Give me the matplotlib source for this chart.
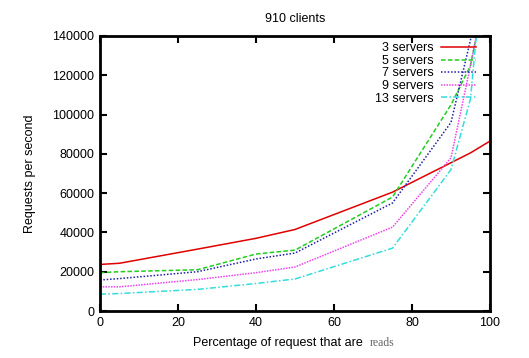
#!/usr/bin/env python3
"""Requests per second vs read percentage, 910 clients (gnuplot-style figure)."""

import matplotlib
matplotlib.use("Agg")
import matplotlib.pyplot as plt

plt.rcParams["font.family"] = ["Liberation Sans", "DejaVu Sans"]

# read percentage (x) and throughput for each server count
pct = [0, 5, 25, 40, 50, 75, 90, 95, 100]
srv3 = [23700, 24300, 31500, 37000, 41500, 60500, 75500, 80500, 86500]
srv5 = [19500, 20000, 21000, 29000, 31000, 58000, 105000, 125000, 175000]
srv7 = [15800, 16500, 20000, 26500, 29500, 55000, 96000, 138000, 200000]
srv9 = [12300, 12300, 16000, 19500, 22400, 42700, 78000, 125000, 175000]
srv13 = [8600, 8900, 11000, 14000, 16300, 32000, 72000, 108000, 215000]

series = [
    ("3 servers", srv3, "#e00000", "-"),
    ("5 servers", srv5, "#22cc22", (0, (3, 1.5))),
    ("7 servers", srv7, "#2020a8", (0, (1, 1.2))),
    ("9 servers", srv9, "#ee44ee", (0, (1, 0.8))),
    ("13 servers", srv13, "#33dddd", (0, (4, 1.5, 1, 1.5))),
]

fig = plt.figure(figsize=(5.29, 3.58), dpi=100)
ax = fig.add_axes([100 / 529, 1 - 311 / 358, 390 / 529, 275 / 358])

for label, vals, color, ls in series:
    ax.plot(pct, vals, color=color, linestyle=ls, linewidth=1.1, label=label)

ax.set_xlim(0, 100)
ax.set_ylim(0, 140000)
ax.set_xticks(range(0, 101, 20))
ax.set_yticks(range(0, 140001, 20000))
ax.tick_params(direction="in", length=5, width=1.5, top=True, right=True,
               labelsize=9, pad=4)
for sp in ax.spines.values():
    sp.set_linewidth(2)

ax.set_title("910 clients", fontsize=9, pad=10)
ax.set_ylabel("Requests per second", fontsize=9, labelpad=12)

# x label: the last word is set in a different (serif, grey) font
fig.text(193 / 529, 1 - 343 / 358, "Percentage of request that are",
         fontsize=9, ha="left", va="center")
fig.text(370 / 529, 1 - 343 / 358, "reads", fontsize=8.5, color="#666666",
         family="Liberation Serif", ha="left", va="center")

ax.legend(loc="upper right", bbox_to_anchor=(0.98, 1.0), frameon=False,
          markerfirst=False, fontsize=9, handlelength=2.8, handletextpad=0.6,
          labelspacing=0.05, borderaxespad=0.1)

fig.savefig("out.png", dpi=100)
